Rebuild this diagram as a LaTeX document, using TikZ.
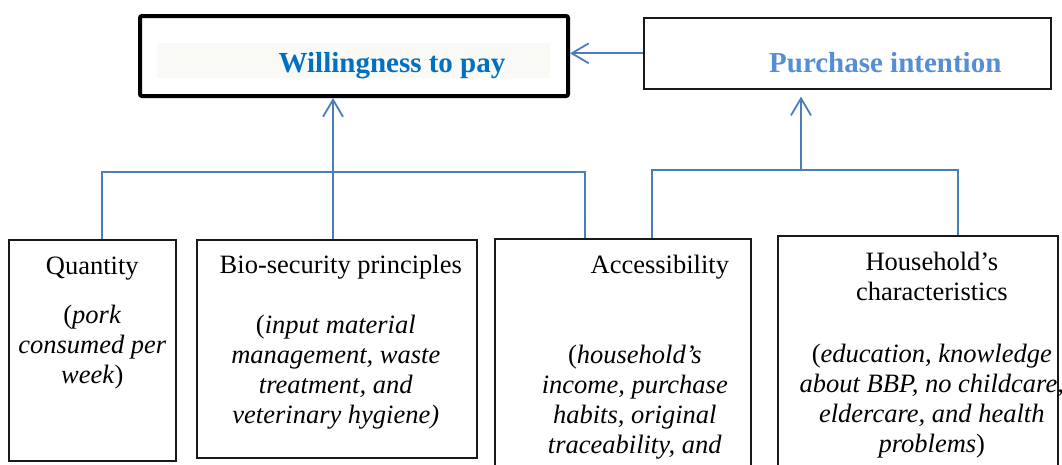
\documentclass[tikz,border=0pt]{standalone}
\usepackage{fontspec}
\setmainfont{Liberation Serif}
\usetikzlibrary{arrows.meta,positioning}

\definecolor{wtpblue}{HTML}{0070C0}
\definecolor{piblue}{HTML}{558ED5}
\definecolor{linkblue}{HTML}{4A7EBB}
\definecolor{bandgrey}{HTML}{F9F9F5}

\tikzset{
  factor/.style={draw=black!90, line width=1.6pt, anchor=north west, inner sep=0pt},
  heading/.style={inner sep=0pt, font=\fontsize{29}{32}\selectfont\bfseries},
  caption/.style={inner sep=0pt, align=center, font=\fontsize{26.5}{30}\selectfont},
  link/.style={draw=linkblue, line width=1.8pt},
  arrowlink/.style={link, -{Straight Barb[length=17pt,width=20pt]}}
}

\begin{document}
\begin{tikzpicture}[x=1pt,y=-1pt]
  \useasboundingbox (0,0) rectangle (1062,464);
  \clip (0,0) rectangle (1062,464);

  % outcome boxes
  \node (wtp)
        [draw, line width=4pt, rounded corners=2pt, anchor=north west,
         minimum width=428pt, minimum height=80pt]
        at (138,14) {};
  \node (wtpband)
        [fill=bandgrey, anchor=north west, minimum width=393pt, minimum height=35pt]
        at (157,43) {};
  \node (wtptext)
        [heading, text=wtpblue, below=38pt of wtp.north, xshift=38pt]
        {Willingness to pay};
  \node (pi)
        [factor, minimum width=407pt, minimum height=71pt]
        at (643,17) {};
  \node (pitext)
        [heading, text=piblue, below=35pt of pi.north, xshift=38pt]
        {Purchase intention};

  % factor boxes
  \node (quantity)
        [factor, minimum width=167pt, minimum height=221pt]
        at (8,239) {};
  \node (bio)
        [factor, minimum width=280pt, minimum height=218pt]
        at (196,239) {};
  \node (access)
        [factor, minimum width=256pt, minimum height=300pt]
        at (494,238) {};
  \node (household)
        [factor, minimum width=280pt, minimum height=300pt]
        at (777,235) {};

  % factor texts
  \node (quantityname)
        [caption, below=18pt of quantity.north]
        {Quantity};
  \node (quantitynote)
        [caption, below=66pt of quantity.north]
        {(\textit{pork}\\ \textit{consumed per}\\ \textit{week})};
  \node (bioname)
        [caption, below=16pt of bio.north, xshift=4pt]
        {Bio-security principles};
  \node (bionote)
        [caption, below=76pt of bio.north, xshift=-1pt]
        {(\textit{input material}\\ \textit{management, waste}\\
         \textit{treatment, and}\\ \textit{veterinary hygiene)}};
  \node (accessname)
        [caption, below=17pt of access.north, xshift=37pt]
        {Accessibility};
  \node (accessnote)
        [caption, below=107pt of access.north, xshift=12pt]
        {(\textit{household's}\\ \textit{income, purchase}\\
         \textit{habits, original}\\ \textit{traceability, and}};
  \node (householdname)
        [caption, below=17pt of household.north, xshift=14pt]
        {Household's\\ characteristics};
  \node (householdnote)
        [caption, below=109pt of household.north, xshift=14pt]
        {(\textit{education, knowledge}\\ \textit{about BBP, no childcare,}\\
         \textit{eldercare, and health}\\ \textit{problems})};

  % brackets joining the factors
  \coordinate (wtpjoin) at (333,172);
  \coordinate (pijoin) at (801,170);

  \draw[link] ([xshift=10pt]quantity.north) |- (wtpjoin) -| ([xshift=-38pt]access.north);
  \draw[link] ([xshift=29pt]access.north) |- (pijoin) -| ([xshift=40pt]household.north);

  \draw[arrowlink] (bio.north -| wtpjoin) -- (wtpjoin |- wtp.south);
  \draw[arrowlink, shorten >=7pt] (pijoin) -- (pijoin |- pi.south);
  \draw[arrowlink] (pi.west) -- (pi.west -| wtp.east);
\end{tikzpicture}
\end{document}
